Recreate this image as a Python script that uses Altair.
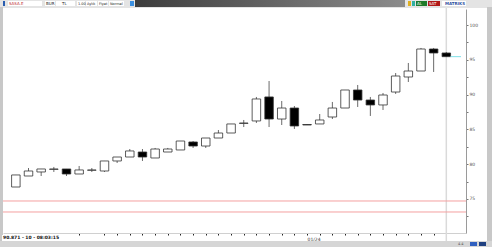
import altair as alt
import pandas as pd

# ---- data (price candles, one per period) ----
idx = list(range(35))
opens = [76.72, 78.30, 78.88, 79.25, 79.31, 78.59, 79.12, 79.02, 80.46, 81.03,
         81.75, 80.89, 81.75, 82.04, 83.19, 82.61, 83.76, 84.48, 85.85, 86.21,
         89.66, 86.49, 88.07, 85.70, 85.78, 86.78, 88.07, 90.66, 89.22, 88.51,
         90.37, 92.53, 93.39, 96.55, 95.98]
closes = [78.45, 79.02, 79.31, 79.31, 78.59, 79.17, 79.17, 80.46, 81.03, 81.90,
          81.03, 82.18, 82.18, 83.33, 82.61, 83.76, 84.48, 85.78, 85.92, 89.37,
          86.49, 88.07, 85.49, 85.63, 86.35, 88.07, 90.66, 89.22, 88.51, 89.94,
          92.67, 93.39, 96.55, 95.98, 95.45]
highs = [78.45, 79.45, 79.31, 79.60, 79.31, 79.74, 79.45, 80.46, 81.03, 82.18,
         82.18, 82.33, 82.33, 83.33, 83.33, 83.76, 84.91, 85.78, 86.35, 89.66,
         91.95, 89.08, 88.36, 85.70, 87.21, 88.94, 90.66, 91.38, 89.66, 90.23,
         93.10, 94.54, 96.70, 96.70, 96.12]
lows = [76.72, 78.30, 78.30, 78.88, 78.30, 78.59, 78.88, 78.88, 80.17, 81.03,
        80.46, 80.89, 81.75, 82.04, 82.33, 82.33, 83.76, 84.48, 85.34, 85.92,
        85.34, 85.63, 85.06, 85.63, 85.78, 86.49, 88.07, 88.22, 86.93, 87.79,
        90.09, 91.81, 93.39, 93.25, 95.45]
red_levels = [74.71, 73.13]
y_ticks = [70, 72.5, 75, 77.5, 80, 82.5, 85, 87.5, 90, 92.5, 95, 97.5, 100]
x_ticks = [5] + list(range(7, 34))
x_label_at = 23
x_label = "01/24"
status_text = "90.871 - 10 - 08:03:15"

df = pd.DataFrame({"i": idx, "open": opens, "close": closes, "high": highs, "low": lows})
df["dir"] = ["up" if c >= o else "down" for o, c in zip(opens, closes)]

W, H = 463, 224
xs = alt.Scale(domain=[-0.62, 35.16], nice=False, zero=False)
ys = alt.Scale(domain=[70.11, 102.30], nice=False, zero=False)

x_axis = alt.Axis(values=x_ticks, tickSize=2, tickColor="#222", tickWidth=1,
                  domainColor="#d0d0d0", grid=False, title=None,
                  labelExpr=f"datum.value == {x_label_at} ? '{x_label}' : ''",
                  labelFontSize=4.5, labelColor="#333", labelAlign="left",
                  labelPadding=1, labelFont="DejaVu Sans", labelOverlap=False,
                  labelFlush=False)
y_axis = alt.Axis(orient="right", values=y_ticks, tickSize=2, tickColor="#777",
                  domainColor="#9a9a9a", grid=False, title=None,
                  labelExpr="(datum.value % 5) == 0 ? format(datum.value, 'd') : ''",
                  labelFontSize=4.5, labelColor="#555", labelPadding=1,
                  labelFont="DejaVu Sans", labelOverlap=False, labelFlush=False)

one = pd.DataFrame({"k": [0]})

def box(x1, x2, y1, y2, color):
    return alt.Chart(one).mark_rect(color=color).encode(
        x=alt.value(x1), x2=alt.value(x2), y=alt.value(y1), y2=alt.value(y2))

def label(x, y, text, color="#222", size=4.5, weight="normal", align="left"):
    return alt.Chart(one).mark_text(text=text, color=color, fontSize=size,
                                    fontWeight=weight, align=align, baseline="middle",
                                    font="DejaVu Sans").encode(
        x=alt.value(x), y=alt.value(y))

# offsets: plot area starts at abs (3, 9)
OX, OY = 3, 9

sep = alt.Chart(pd.DataFrame({"i": [idx[-1]]})).mark_rule(color="#dadada", strokeWidth=1.5).encode(
    x=alt.X("i:Q", scale=xs, axis=x_axis), y=alt.value(-1), y2=alt.value(H + 8))

reds = alt.Chart(pd.DataFrame({"lvl": red_levels})).mark_rule(color="#f4a0a0", strokeWidth=1).encode(
    y=alt.Y("lvl:Q", scale=ys, axis=y_axis), x=alt.value(0), x2=alt.value(W))

base = alt.Chart(df)
wicks = base.mark_rule(color="#444", strokeWidth=0.8).encode(
    x=alt.X("i:Q", scale=xs, axis=x_axis),
    y=alt.Y("low:Q", scale=ys, axis=y_axis),
    y2="high:Q")

bodies = base.mark_bar(size=8.5, stroke="#333", strokeWidth=0.8).encode(
    x=alt.X("i:Q", scale=xs, axis=x_axis),
    y=alt.Y("open:Q", scale=ys, axis=y_axis),
    y2="close:Q",
    fill=alt.Fill("dir:N", scale=alt.Scale(domain=["up", "down"], range=["#ffffff", "#000000"]),
                  legend=None))

last = pd.DataFrame({"a": [idx[-1] + 0.33], "b": [35.16], "c": [closes[-1]]})
price_line = alt.Chart(last).mark_rule(color="#7fe0e8", strokeWidth=1).encode(
    x=alt.X("a:Q", scale=xs, axis=x_axis), x2="b:Q", y=alt.Y("c:Q", scale=ys, axis=y_axis))

# ---- frame decorations (screenshot of trading window) ----
grad = alt.LinearGradient(gradient="linear", x1=0, x2=1, y1=0, y2=0,
                          stops=[alt.GradientStop(color="#3c3c3c", offset=0),
                                 alt.GradientStop(color="#8c8c8c", offset=1)])
toolbar_bg = box(-OX, 492 - OX, -OY, -OY + 8, "#e4e4e4")
toolbar_dark = alt.Chart(one).mark_rect(fill=grad).encode(
    x=alt.value(135 - OX), x2=alt.value(405 - OX), y=alt.value(-OY), y2=alt.value(-OY + 7))
fields = [box(8 - OX, 42 - OX, -OY + 1, -OY + 6, "#ffffff"),
          box(45 - OX, 55 - OX, -OY + 1, -OY + 6, "#ffffff"),
          box(56 - OX, 75 - OX, -OY + 1, -OY + 6, "#ffffff"),
          box(77 - OX, 85 - OX, -OY + 1, -OY + 6, "#ffffff"),
          box(86 - OX, 97 - OX, -OY + 1, -OY + 6, "#ffffff"),
          box(98 - OX, 108 - OX, -OY + 1, -OY + 6, "#ffffff"),
          box(109 - OX, 124 - OX, -OY + 1, -OY + 6, "#ffffff"),
          box(130 - OX, 134 - OX, -OY + 1, -OY + 6, "#3a8fe0"),
          box(3 - OX, 5 - OX, -OY + 1, -OY + 6, "#2a5db0"),
          box(408 - OX, 411 - OX, -OY + 1, -OY + 6, "#e0b020"),
          box(412 - OX, 415 - OX, -OY + 1, -OY + 6, "#30b0a0"),
          box(416 - OX, 427 - OX, -OY + 1, -OY + 6, "#1d7a2a"),
          box(428 - OX, 440 - OX, -OY + 1, -OY + 6, "#b01818"),
          box(442 - OX, 466 - OX, -OY + 1, -OY + 6, "#ffffff")]
texts = [label(9 - OX, -OY + 3.6, "SASA.E", color="#c03030", size=4),
         label(46 - OX, -OY + 3.6, "BUR", size=4),
         label(62 - OX, -OY + 3.6, "TL", size=4),
         label(78 - OX, -OY + 3.6, "1.00", size=3.5),
         label(87 - OX, -OY + 3.6, "Aylık", size=3.5),
         label(99 - OX, -OY + 3.6, "Fiyat", size=3.5),
         label(110 - OX, -OY + 3.6, "Normal", size=3.5),
         label(417 - OX, -OY + 3.6, "AL", color="#ffffff", size=4),
         label(429 - OX, -OY + 3.6, "SAT", color="#ffffff", size=4),
         label(445 - OX, -OY + 3.6, "MATRIKS", color="#3050a0", size=4, weight="bold")]
left_border = box(-OX, 0, -OY + 7, 247 - OY, "#c8c8c8")
right_border = box(487 - OX, 492 - OX, -OY + 7, 247 - OY, "#c8c8c8")
status_bar = box(-OX, 492 - OX, 241 - OY, 247 - OY, "#d6d6d6")
status_box = box(-1, 52 - OX, 235 - OY, 241 - OY, "#ffffff")
status = label(0, 238 - OY, status_text, color="#111", size=4.5, weight="bold")
icon1 = box(470 - OX, 477 - OX, 242 - OY, 246 - OY, "#3060c0")
icon2 = box(479 - OX, 486 - OX, 242 - OY, 246 - OY, "#204080")
corner = label(458 - OX, 243.5 - OY, "4.4", color="#555", size=3.5)

chart = alt.layer(
    sep, reds, wicks, bodies, price_line,
    toolbar_bg, toolbar_dark, *fields, *texts,
    left_border, right_border, status_bar, status_box, status, icon1, icon2, corner
).properties(
    width=W, height=H,
    autosize=alt.AutoSizeParams(type="none"),
    padding={"left": OX, "top": OY, "right": 492 - OX - W, "bottom": 247 - OY - H},
    background="#ffffff"
).configure_view(stroke=None)

chart.save("out.html", embed_options={"renderer": "svg", "actions": False})
